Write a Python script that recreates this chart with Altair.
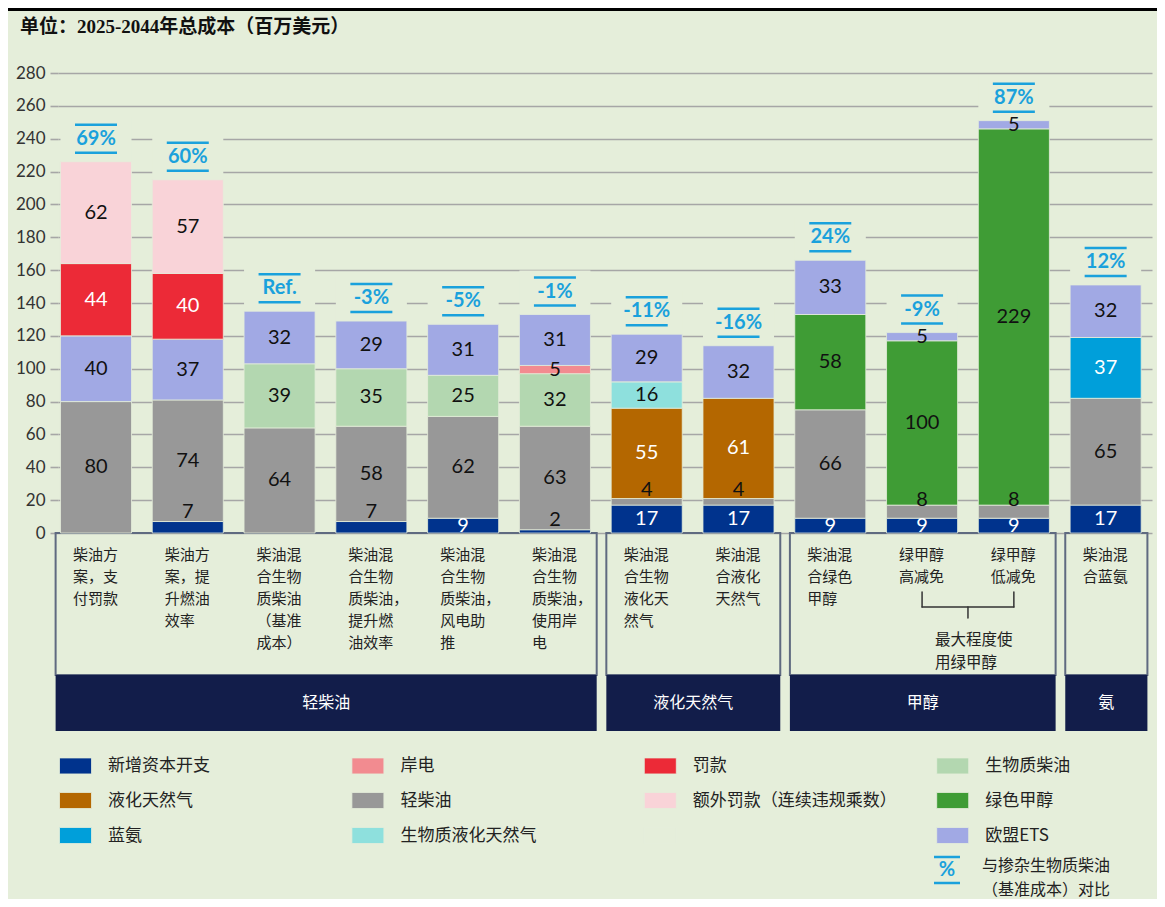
import altair as alt
import pandas as pd

# ---------------- data ----------------
categories = [
    "柴油方\n案，支\n付罚款",
    "柴油方\n案，提\n升燃油\n效率",
    "柴油混\n合生物\n质柴油\n（基准\n成本）",
    "柴油混\n合生物\n质柴油，\n提升燃\n油效率",
    "柴油混\n合生物\n质柴油，\n风电助\n推",
    "柴油混\n合生物\n质柴油，\n使用岸\n电",
    "柴油混\n合生物\n液化天\n然气",
    "柴油混\n合液化\n天然气",
    "柴油混\n合绿色\n甲醇",
    "绿甲醇\n高减免",
    "绿甲醇\n低减免",
    "柴油混\n合蓝氨",
]
pct_labels = ["69%", "60%", "Ref.", "-3%", "-5%", "-1%", "-11%", "-16%", "24%", "-9%", "87%", "12%"]

group_names = ["轻柴油", "液化天然气", "甲醇", "氨"]
group_first = [0, 6, 8, 11]
group_last = [5, 7, 10, 11]

bracket_text = ["最大程度使\n用绿甲醇"]
bracket_first = [9]
bracket_last = [10]

capex = [0, 7, 0, 7, 9, 2, 17, 17, 9, 9, 9, 17]
light_diesel = [80, 74, 64, 58, 62, 63, 4, 4, 66, 8, 8, 65]
lng = [0, 0, 0, 0, 0, 0, 55, 61, 0, 0, 0, 0]
bio_lng = [0, 0, 0, 0, 0, 0, 16, 0, 0, 0, 0, 0]
biodiesel = [0, 0, 39, 35, 25, 32, 0, 0, 0, 0, 0, 0]
shore_power = [0, 0, 0, 0, 0, 5, 0, 0, 0, 0, 0, 0]
green_methanol = [0, 0, 0, 0, 0, 0, 0, 0, 58, 100, 229, 0]
blue_ammonia = [0, 0, 0, 0, 0, 0, 0, 0, 0, 0, 0, 37]
eu_ets = [40, 37, 32, 29, 31, 31, 29, 32, 33, 5, 5, 32]
penalty = [44, 40, 0, 0, 0, 0, 0, 0, 0, 0, 0, 0]
extra_penalty = [62, 57, 0, 0, 0, 0, 0, 0, 0, 0, 0, 0]

series_names = ["新增资本开支", "轻柴油", "液化天然气", "生物质液化天然气", "生物质柴油", "岸电",
                "绿色甲醇", "蓝氨", "欧盟ETS", "罚款", "额外罚款（连续违规乘数）"]
series_values = [capex, light_diesel, lng, bio_lng, biodiesel, shore_power,
                 green_methanol, blue_ammonia, eu_ets, penalty, extra_penalty]

# legend entries, filled column by column (3 rows per column)
legend_order = ["新增资本开支", "液化天然气", "蓝氨",
                "岸电", "轻柴油", "生物质液化天然气",
                "罚款", "额外罚款（连续违规乘数）", " ",
                "生物质柴油", "绿色甲醇", "欧盟ETS"]

title_text = ["单位：2025-2044年总成本（百万美元）"]
pct_marker = ["%"]
pct_note = ["与掺杂生物质柴油\n（基准成本）对比"]

# ---------------- styles ----------------
BG = "#E5EEDA"
GRID = "#A6A6A6"
PCT = "#1AA1DC"
NAVY = "#121D4A"
CJK = "Noto Sans CJK SC"
NUM = "Lato"
legend_colors = ["#00338D", "#B46700", "#009FDA",
                 "#F28B90", "#989898", "#8EE0DD",
                 "#EC2A37", "#F9D3D8", BG,
                 "#B3D7B0", "#3F9C35", "#A1A9E4"]
dark_series = ["新增资本开支", "罚款", "液化天然气", "蓝氨"]

PX = 460.0 / 280.0


def v(px):
    return -px / PX


# ---------------- tables ----------------
rows = []
for i in range(len(categories)):
    cum = 0
    for k, (s, vals) in enumerate(zip(series_names, series_values)):
        val = vals[i]
        if val > 0:
            rows.append(dict(idx=i, series=s, value=val, start=cum, end=cum + val, order=k))
            cum += val
seg = pd.DataFrame(rows)

tot = pd.DataFrame({"idx": list(range(len(categories))),
                    "total": [sum(vals[i] for vals in series_values) for i in range(len(categories))],
                    "pct": pct_labels,
                    "label": categories})
grp = pd.DataFrame({"name": group_names, "first": group_first, "last": group_last})
brk = pd.DataFrame({"text": bracket_text, "first": bracket_first, "last": bracket_last})
ttl = pd.DataFrame({"t": title_text})
pm = pd.DataFrame({"t": pct_marker})
pn = pd.DataFrame({"t": pct_note})

xs = alt.Scale(domain=[-0.414, 11.505], nice=False, zero=False)
ys = alt.Scale(domain=[-120.5, 280], nice=False, zero=False)

yaxis = alt.Axis(values=list(range(0, 281, 20)), grid=True, gridColor=GRID, gridWidth=1.6,
                 domain=False, ticks=True, tickSize=8, tickColor=GRID, tickWidth=1.6,
                 labelFont=NUM, labelFontSize=17, labelColor="#333", labelPadding=5, title=None)


def X(f):
    return alt.X(f, type="quantitative", scale=xs, axis=None)


def Y(f):
    return alt.Y(f, type="quantitative", scale=ys, axis=yaxis)


def YD(val):
    return alt.YDatum(val, scale=ys, axis=yaxis)


legend = alt.Legend(title=None, orient="none", legendX=1, legendY=676, columns=4, gridAlign="all",
                    columnPadding=37.4, rowPadding=8, symbolType="M-1,-0.5H1V0.5H-1Z",
                    symbolSize=1024, symbolStrokeWidth=0.8, labelOffset=16, labelFont=CJK,
                    labelFontSize=17, labelColor="#222", labelLimit=400, padding=0)

# group boxes under the category labels
boxes = alt.Chart(grp).transform_calculate(
    gx0="datum.first - 0.44", gx1="datum.last + 0.455"
).mark_rect(fillOpacity=0, stroke="#5F6A80", strokeWidth=2).encode(
    x=X("gx0"), x2="gx1", y=YD(0), y2=alt.Y2Datum(v(142)))

navy = alt.Chart(grp).transform_calculate(
    gx0="datum.first - 0.44", gx1="datum.last + 0.455"
).mark_rect(color=NAVY).encode(
    x=X("gx0"), x2="gx1", y=YD(v(142)), y2=alt.Y2Datum(-120.5))

group_txt = alt.Chart(grp).transform_calculate(
    gm="(datum.first - 0.44 + datum.last + 0.455) / 2"
).mark_text(color="white", font=CJK, fontSize=16, baseline="middle").encode(
    x=X("gm"), y=YD(v(170)), text="name:N")

mask = alt.Chart(tot).transform_calculate(
    x0="datum.idx - 0.387", x1="datum.idx + 0.387"
).mark_rect(color=BG, y2Offset=-44).encode(
    x=X("x0"), x2="x1", y=Y("total"), y2="total:Q")

bars = alt.Chart(seg).transform_calculate(
    x0="datum.idx - 0.387", x1="datum.idx + 0.387"
).mark_rect(stroke=BG, strokeWidth=0.8).encode(
    x=X("x0"), x2="x1",
    y=Y("start"), y2="end:Q",
    color=alt.Color("series:N", scale=alt.Scale(domain=legend_order, range=legend_colors), legend=legend),
    order="order:Q")

label_calc = dict(
    ly="(datum.series == '新增资本开支' && datum.value < 8) ? datum.end + 6 : "
       "((datum.series == '新增资本开支' && datum.value < 10) ? (datum.start + datum.end) / 2 : "
       "((datum.series == '轻柴油' && datum.value < 10) ? (datum.start + datum.end) / 2 + 7 : "
       "(datum.start + datum.end) / 2))",
    light="indexof(" + str(dark_series) + ", datum.series) >= 0 && !(datum.series == '新增资本开支' && datum.value < 8)",
)

seg_white = alt.Chart(seg).transform_calculate(**label_calc).transform_filter("datum.light").mark_text(
    font=NUM, fontSize=20, color="white", baseline="middle").encode(
    x=X("idx"), y=Y("ly"), text="value:Q")

seg_dark = alt.Chart(seg).transform_calculate(**label_calc).transform_filter("!datum.light").mark_text(
    font=NUM, fontSize=20, color="#111", baseline="middle").encode(
    x=X("idx"), y=Y("ly"), text="value:Q")

pct_text = alt.Chart(tot).mark_text(font=NUM, fontSize=20, fontWeight="bold", color=PCT,
                                     baseline="middle", dy=-23).encode(
    x=X("idx"), y=Y("total"), text="pct:N")
pct_over = alt.Chart(tot).mark_rule(color=PCT, strokeWidth=2.5, xOffset=-21, x2Offset=21, yOffset=-37).encode(
    x=X("idx"), x2="idx:Q", y=Y("total"))
pct_under = alt.Chart(tot).mark_rule(color=PCT, strokeWidth=2.5, xOffset=-21, x2Offset=21, yOffset=-9).encode(
    x=X("idx"), x2="idx:Q", y=Y("total"))

cat_txt = alt.Chart(tot).mark_text(font=CJK, fontSize=15, color="#222", align="left", baseline="top",
                                    dx=-23, dy=15, lineBreak="\n", lineHeight=22).encode(
    x=X("idx"), y=YD(0), text="label:N")

brk_base = alt.Chart(brk).transform_calculate(mid="(datum.first + datum.last) / 2")
brk_l = brk_base.mark_rule(color="#333", strokeWidth=1.5, strokeCap="round").encode(
    x=X("first"), y=YD(v(59)), y2=alt.Y2Datum(v(74)))
brk_r = brk_base.mark_rule(color="#333", strokeWidth=1.5, strokeCap="round").encode(
    x=X("last"), y=YD(v(59)), y2=alt.Y2Datum(v(74)))
brk_h = brk_base.mark_rule(color="#333", strokeWidth=1.5, strokeCap="round").encode(
    x=X("first"), x2="last:Q", y=YD(v(74)))
brk_s = brk_base.mark_rule(color="#333", strokeWidth=1.5, strokeCap="round").encode(
    x=X("mid"), y=YD(v(74)), y2=alt.Y2Datum(v(85)))
brk_t = brk_base.mark_text(font=CJK, fontSize=15.5, color="#222", align="left", baseline="top",
                           dx=-33, lineBreak="\n", lineHeight=22.5).encode(
    x=X("mid"), y=YD(v(100)), text="text:N")

title = alt.Chart(ttl).mark_text(font="Liberation Serif, " + CJK, fontSize=19, fontWeight="bold",
                                 color="#111", align="left", baseline="middle").encode(
    x=alt.value(-38), y=alt.value(-46), text="t:N")
top_line = alt.Chart(ttl).mark_rule(color="#000", strokeWidth=3).encode(
    x=alt.value(-50), x2=alt.value(1099), y=alt.value(-63.5))

pm_txt = alt.Chart(pm).mark_text(font=NUM, fontSize=20, fontWeight="bold", color=PCT,
                                 align="center", baseline="middle").encode(
    x=alt.value(889), y=alt.value(797), text="t:N")
pm_over = alt.Chart(pm).mark_rule(color=PCT, strokeWidth=2.5).encode(
    x=alt.value(876), x2=alt.value(902), y=alt.value(784))
pm_under = alt.Chart(pm).mark_rule(color=PCT, strokeWidth=2.5).encode(
    x=alt.value(876), x2=alt.value(902), y=alt.value(810))
pn_txt = alt.Chart(pn).mark_text(font=CJK, fontSize=16, color="#222", align="left", baseline="middle",
                                 lineBreak="\n", lineHeight=23.5).encode(
    x=alt.value(924), y=alt.value(793), text="t:N")

chart = alt.layer(
    boxes, navy, group_txt, mask, bars, seg_white, seg_dark,
    pct_over, pct_under, pct_text, cat_txt,
    brk_l, brk_r, brk_h, brk_s, brk_t,
    title, top_line, pm_over, pm_under, pm_txt, pn_txt,
).properties(
    width=1094, height=658,
    padding={"left": 50, "top": 65, "right": 5, "bottom": 168},
    autosize=alt.AutoSizeParams(type="none"),
    background=BG,
).configure_view(stroke=None)

chart.save("out.html", embed_options={"renderer": "svg", "actions": False})
